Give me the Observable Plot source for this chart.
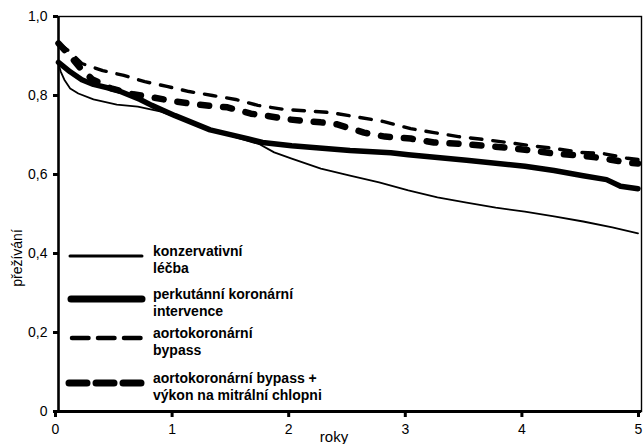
<!DOCTYPE html>
<html>
<head>
<meta charset="utf-8">
<script src="https://cdn.jsdelivr.net/npm/d3@7"></script>
<script src="https://cdn.jsdelivr.net/npm/@observablehq/plot@0.6"></script>
<style>
  html, body { margin: 0; padding: 0; background: #fff; }
  #chart { width: 643px; height: 444px; }
</style>
</head>
<body>
<div id="chart"></div>
<script>
// Survival curves (Kaplan–Meier style) by treatment group, years 0–5
const seriesNames = [
  "konzervativní léčba",
  "perkutánní koronární intervence",
  "aortokoronární bypass",
  "aortokoronární bypass + výkon na mitrální chlopni"
];

const konzT = [0, 0.02, 0.05, 0.1, 0.17, 0.3, 0.5, 0.68, 0.88, 1.07, 1.3, 1.5, 1.72, 1.85, 2.0, 2.25, 2.5, 2.75, 3.0, 3.25, 3.5, 3.75, 4.0, 4.25, 4.5, 4.75, 4.97];
const konzV = [0.879, 0.86, 0.84, 0.818, 0.805, 0.79, 0.777, 0.772, 0.759, 0.739, 0.714, 0.696, 0.677, 0.656, 0.64, 0.615, 0.597, 0.58, 0.56, 0.542, 0.529, 0.516, 0.506, 0.494, 0.481, 0.466, 0.451];

const pciT = [0, 0.05, 0.1, 0.2, 0.3, 0.5, 0.7, 0.8, 1.0, 1.3, 1.62, 1.75, 2.0, 2.5, 2.85, 3.0, 3.5, 4.0, 4.25, 4.5, 4.7, 4.82, 4.97];
const pciV = [0.884, 0.872, 0.86, 0.84, 0.828, 0.814, 0.79, 0.775, 0.749, 0.713, 0.691, 0.681, 0.673, 0.661, 0.655, 0.65, 0.636, 0.621, 0.61, 0.597, 0.587, 0.57, 0.564];

const cabgT = [0, 0.1, 0.2, 0.38, 0.56, 0.74, 0.93, 1.12, 1.32, 1.52, 1.71, 1.93, 2.33, 2.79, 3.02, 3.22, 3.43, 3.64, 3.85, 4.05, 4.25, 4.48, 4.67, 4.88, 4.97];
const cabgV = [0.932, 0.91, 0.881, 0.863, 0.851, 0.835, 0.823, 0.81, 0.8, 0.79, 0.775, 0.765, 0.757, 0.734, 0.716, 0.706, 0.696, 0.689, 0.681, 0.673, 0.666, 0.656, 0.653, 0.641, 0.638];

const mitrT = [0, 0.1, 0.2, 0.29, 0.45, 0.64, 0.81, 1.0, 1.19, 1.45, 1.65, 1.82, 1.99, 2.25, 2.39, 2.62, 2.8, 3.02, 3.22, 3.43, 3.64, 3.85, 4.05, 4.25, 4.48, 4.67, 4.88, 4.97];
const mitrV = [0.932, 0.9, 0.865, 0.841, 0.818, 0.803, 0.795, 0.785, 0.777, 0.77, 0.754, 0.747, 0.739, 0.732, 0.727, 0.706, 0.696, 0.691, 0.681, 0.678, 0.673, 0.668, 0.661, 0.653, 0.648, 0.641, 0.63, 0.628];

const yTicks = [0, 0.2, 0.4, 0.6, 0.8, 1.0];
const yTickLabels = ["0", "0,2", "0,4", "0,6", "0,8", "1,0"];
const xTicks = [0, 1, 2, 3, 4, 5];
const xTickLabels = ["0", "1", "2", "3", "4", "5"];

const xTitle = "roky";
const yTitle = "přežívání";

// Legend entries: two text lines each
const legendLines = [
  ["konzervativní", "léčba"],
  ["perkutánní koronární", "intervence"],
  ["aortokoronární", "bypass"],
  ["aortokoronární bypass +", "výkon na mitrální chlopni"]
];

const toRows = (ts, vs) => ts.map((t, i) => ({t, v: vs[i]}));

// Line styles per series
const styles = [
  {strokeWidth: 1.8},
  {strokeWidth: 5.5},
  {strokeWidth: 3.4, strokeDasharray: "11.5,11"},
  {strokeWidth: 6.5, strokeDasharray: "9,14"}
];

const data = [
  toRows(konzT, konzV),
  toRows(pciT, pciV),
  toRows(cabgT, cabgV),
  toRows(mitrT, mitrV)
];

const chart = Plot.plot({
  width: 643,
  height: 444,
  marginLeft: 58,
  marginRight: 2,
  marginTop: 16,
  marginBottom: 33,
  x: {domain: [0, 5]},
  y: {domain: [0, 1]},
  style: {fontFamily: "'Liberation Sans', Arial, sans-serif", fontSize: "13.5px", background: "#fff", color: "#000"},
  marks: [
    Plot.frame({stroke: "#000", strokeWidth: 1.4}),
    ...data.map((rows, i) => Plot.line(rows, {
      x: "t", y: "v", stroke: "#000", strokeLinecap: "round", strokeLinejoin: "round", ...styles[i]
    })),
    Plot.ruleX([0], {stroke: "#000", strokeWidth: 2.5}),
    Plot.ruleY([0], {stroke: "#000", strokeWidth: 3}),
    Plot.axisY({ticks: yTicks, tickFormat: d => yTickLabels[yTicks.indexOf(d)], tickSize: 5, tickPadding: 6, strokeWidth: 3, label: null, fontSize: 14}),
    Plot.axisX({ticks: xTicks, tickFormat: d => xTickLabels[xTicks.indexOf(d)], tickSize: 6, tickPadding: 7, strokeWidth: 3, label: null, fontSize: 14, dx: -3}),
    Plot.text([xTitle], {frameAnchor: "bottom", dy: 30, dx: -16, fontSize: 15, text: d => d})
  ]
});

document.getElementById("chart").appendChild(chart);

// Axis title and in-plot legend
const svg = d3.select(chart);

svg.append("text")
  .attr("transform", "translate(18,258) rotate(-90)")
  .attr("text-anchor", "middle")
  .attr("dominant-baseline", "middle")
  .attr("font-size", 14)
  .attr("fill", "#000")
  .text(yTitle);

const legendRows = [256, 299, 338, 383];
const legend = svg.append("g")
  .attr("font-family", "'Liberation Sans', Arial, sans-serif")
  .attr("font-weight", "bold")
  .attr("font-size", 14)
  .attr("text-anchor", "start")
  .attr("fill", "#000");

const sampleStyles = [
  {w: 3, dash: null, x1: 70, x2: 142},
  {w: 7, dash: null, x1: 71, x2: 142},
  {w: 4.5, dash: "16.5,9.5", x1: 72, x2: 142},
  {w: 7, dash: "18,9", x1: 69, x2: 141}
];

legendLines.forEach((lines, i) => {
  const y = legendRows[i];
  const s = sampleStyles[i];
  legend.append("line")
    .attr("x1", s.x1).attr("x2", s.x2)
    .attr("y1", y).attr("y2", y)
    .attr("stroke", "#000")
    .attr("stroke-width", s.w)
    .attr("stroke-linecap", "round")
    .attr("stroke-dasharray", s.dash);
  legend.append("text")
    .attr("x", 153)
    .attr("y", y - 4)
    .attr("dominant-baseline", "middle")
    .text(lines[0]);
  legend.append("text")
    .attr("x", 153)
    .attr("y", y + 13)
    .attr("dominant-baseline", "middle")
    .text(lines[1]);
});
</script>
</body>
</html>
